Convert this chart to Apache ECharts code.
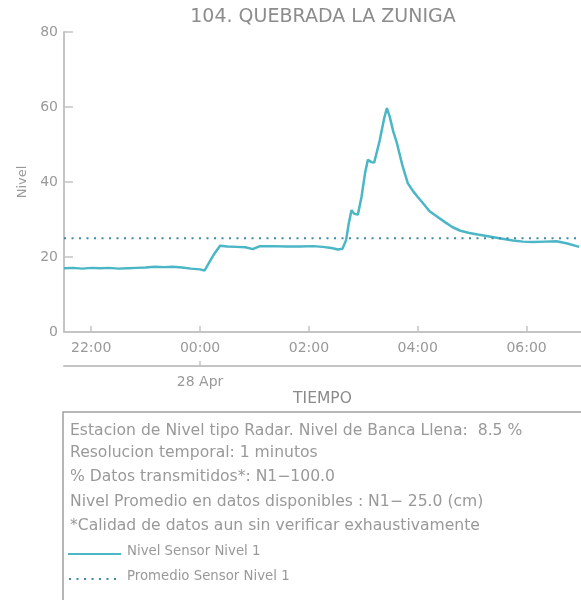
<!DOCTYPE html>
<html>
<head>
<meta charset="utf-8">
<script src="https://cdn.jsdelivr.net/npm/echarts@6/dist/echarts.min.js"></script>
<style>
html,body{margin:0;padding:0;background:#fff;}
#chart{width:581px;height:600px;}
</style>
</head>
<body>
<div id="chart"></div>
<script>
var titleText = '104. QUEBRADA LA ZUNIGA';
var times = ['2024-04-27 21:30','2024-04-27 21:40','2024-04-27 21:50','2024-04-27 22:00','2024-04-27 22:10','2024-04-27 22:20','2024-04-27 22:30','2024-04-27 22:40','2024-04-27 22:50','2024-04-27 23:00','2024-04-27 23:10','2024-04-27 23:20','2024-04-27 23:30','2024-04-27 23:40','2024-04-27 23:50',
 '2024-04-28 00:00','2024-04-28 00:05','2024-04-28 00:10','2024-04-28 00:15','2024-04-28 00:22','2024-04-28 00:30','2024-04-28 00:40','2024-04-28 00:50','2024-04-28 00:58','2024-04-28 01:06','2024-04-28 01:20','2024-04-28 01:35','2024-04-28 01:50','2024-04-28 02:05','2024-04-28 02:15','2024-04-28 02:25','2024-04-28 02:32','2024-04-28 02:37','2024-04-28 02:41','2024-04-28 02:44','2024-04-28 02:47','2024-04-28 02:50','2024-04-28 02:54','2024-04-28 02:58','2024-04-28 03:02','2024-04-28 03:05','2024-04-28 03:09','2024-04-28 03:12','2024-04-28 03:18','2024-04-28 03:23','2024-04-28 03:26','2024-04-28 03:29','2024-04-28 03:33','2024-04-28 03:37','2024-04-28 03:43','2024-04-28 03:49','2024-04-28 03:55','2024-04-28 04:00','2024-04-28 04:07','2024-04-28 04:13','2024-04-28 04:20','2024-04-28 04:30','2024-04-28 04:38','2024-04-28 04:47','2024-04-28 04:57','2024-04-28 05:06','2024-04-28 05:16','2024-04-28 05:30','2024-04-28 05:45','2024-04-28 05:56','2024-04-28 06:07','2024-04-28 06:20','2024-04-28 06:33','2024-04-28 06:45','2024-04-28 06:58'];
var levels = [17.0,17.1,16.9,17.1,17.0,17.1,16.9,17.0,17.1,17.2,17.4,17.3,17.4,17.2,16.9,
 16.7,16.4,18.5,20.6,23.0,22.8,22.7,22.6,22.1,22.9,22.9,22.8,22.8,22.9,22.7,22.4,22.0,22.2,24.5,29.0,32.5,31.5,31.3,36.0,42.5,45.9,45.3,45.2,51.0,57.0,59.7,57.5,53.5,50.4,44.5,39.7,37.5,36.0,34.0,32.2,31.0,29.3,28.0,27.0,26.4,26.0,25.6,25.0,24.4,24.1,24.0,24.1,24.2,23.6,22.7];
var meanLevel = 25.0;
var xMin = '2024-04-27 21:30';
var xMax = '2024-04-28 07:00';
var hourTicks = ['2024-04-27 22:00','2024-04-28 00:00','2024-04-28 02:00','2024-04-28 04:00','2024-04-28 06:00'];
var dayTicks = ['2024-04-28 00:00'];
var dayLabel = '28 Apr';
var infoLines = [
 'Estacion de Nivel tipo Radar. Nivel de Banca Llena:  8.5 %',
 'Resolucion temporal: 1 minutos',
 '% Datos transmitidos*: N1\u2212100.0',
 'Nivel Promedio en datos disponibles : N1\u2212 25.0 (cm)',
 '*Calidad de datos aun sin verificar exhaustivamente'
];
var legendNames = ['Nivel Sensor Nivel 1','Promedio Sensor Nivel 1'];

function ts(s){ var p=s.split(/[- :]/); return new Date(+p[0],+p[1]-1,+p[2],+p[3],+p[4]).getTime(); }

var FONT = 'DejaVu Sans';
var TXT = '#999999';
var AX = '#c4c4c4';
var LINE = '#4bb6c6';
var MEAN = '#3d8aa3';

var chart = echarts.init(document.getElementById('chart'));
var lineData = times.map(function(t,i){ return [ts(t), levels[i]]; });
var meanData = [[ts(xMin), meanLevel],[ts(xMax), meanLevel]];

var graphics = [
 {type:'text', x:323, y:8, style:{text:titleText, fill:'#8c8c8c', font:'19px "'+FONT+'"', align:'center', textAlign:'center'}},
 {type:'rect', shape:{x:63,y:412,width:600,height:300}, style:{fill:'none', stroke:'#a0a0a0', lineWidth:1.5}}
];
var lineYs = [431,453,477,502,526];
infoLines.forEach(function(t,i){
 graphics.push({type:'text', x:70, y:lineYs[i], style:{text:t, fill:TXT, font:'15.6px "'+FONT+'"', textVerticalAlign:'middle', verticalAlign:'middle'}});
});
graphics.push({type:'line', shape:{x1:68,y1:554,x2:121,y2:554}, style:{stroke:LINE, lineWidth:2}});
graphics.push({type:'text', x:127, y:552, style:{text:legendNames[0], fill:TXT, font:'13.3px "'+FONT+'"', textVerticalAlign:'middle', verticalAlign:'middle'}});
graphics.push({type:'line', shape:{x1:69,y1:579,x2:121,y2:579}, style:{stroke:MEAN, lineWidth:2, lineDash:[2,5.5]}});
graphics.push({type:'text', x:127, y:577, style:{text:legendNames[1], fill:TXT, font:'13.3px "'+FONT+'"', textVerticalAlign:'middle', verticalAlign:'middle'}});

function hm(v){var d=new Date(v); return ('0'+d.getHours()).slice(-2)+':'+('0'+d.getMinutes()).slice(-2);}

chart.setOption({
 animation:false,
 textStyle:{fontFamily:FONT},
 grid:{left:64, right:0, top:32, bottom:268, containLabel:false},
 xAxis:[{
   type:'value', min:ts(xMin), max:ts(xMax), position:'bottom',
   axisLine:{show:true, lineStyle:{color:AX, width:2}},
   axisTick:{show:true, inside:true, length:6, lineStyle:{color:AX, width:1.5}, customValues:hourTicks.map(ts)},
   axisLabel:{color:TXT, fontSize:14, margin:9, customValues:hourTicks.map(ts), formatter:hm},
   splitLine:{show:false}
 },{
   type:'value', min:ts(xMin), max:ts(xMax), position:'bottom', offset:34,
   name:'TIEMPO', nameLocation:'middle', nameGap:25, nameTextStyle:{color:'#8a8a8a', fontSize:15.5},
   axisLine:{show:true, lineStyle:{color:AX, width:2}},
   axisTick:{show:true, inside:true, length:5, lineStyle:{color:AX, width:1.5}, customValues:dayTicks.map(ts)},
   axisLabel:{color:TXT, fontSize:14, margin:9, customValues:dayTicks.map(ts), formatter:function(){return dayLabel;}},
   splitLine:{show:false}
 }],
 yAxis:{
   type:'value', min:0, max:80, interval:20,
   name:'Nivel', nameLocation:'middle', nameGap:34, nameTextStyle:{color:TXT, fontSize:13},
   axisLine:{show:true, lineStyle:{color:AX, width:2}},
   axisTick:{show:true, inside:true, length:9, lineStyle:{color:AX, width:1.5}},
   axisLabel:{color:TXT, fontSize:14, margin:6},
   splitLine:{show:false}
 },
 series:[
  {name:legendNames[0], type:'line', xAxisIndex:0, data:lineData, showSymbol:false, symbol:'none', lineStyle:{color:LINE, width:2.5}, itemStyle:{color:LINE}},
  {name:legendNames[1], type:'line', xAxisIndex:0, data:meanData, showSymbol:false, symbol:'none', lineStyle:{color:MEAN, width:2, type:[2,5.5]}, itemStyle:{color:MEAN}}
 ],
 graphic:graphics
});
</script>
</body>
</html>
